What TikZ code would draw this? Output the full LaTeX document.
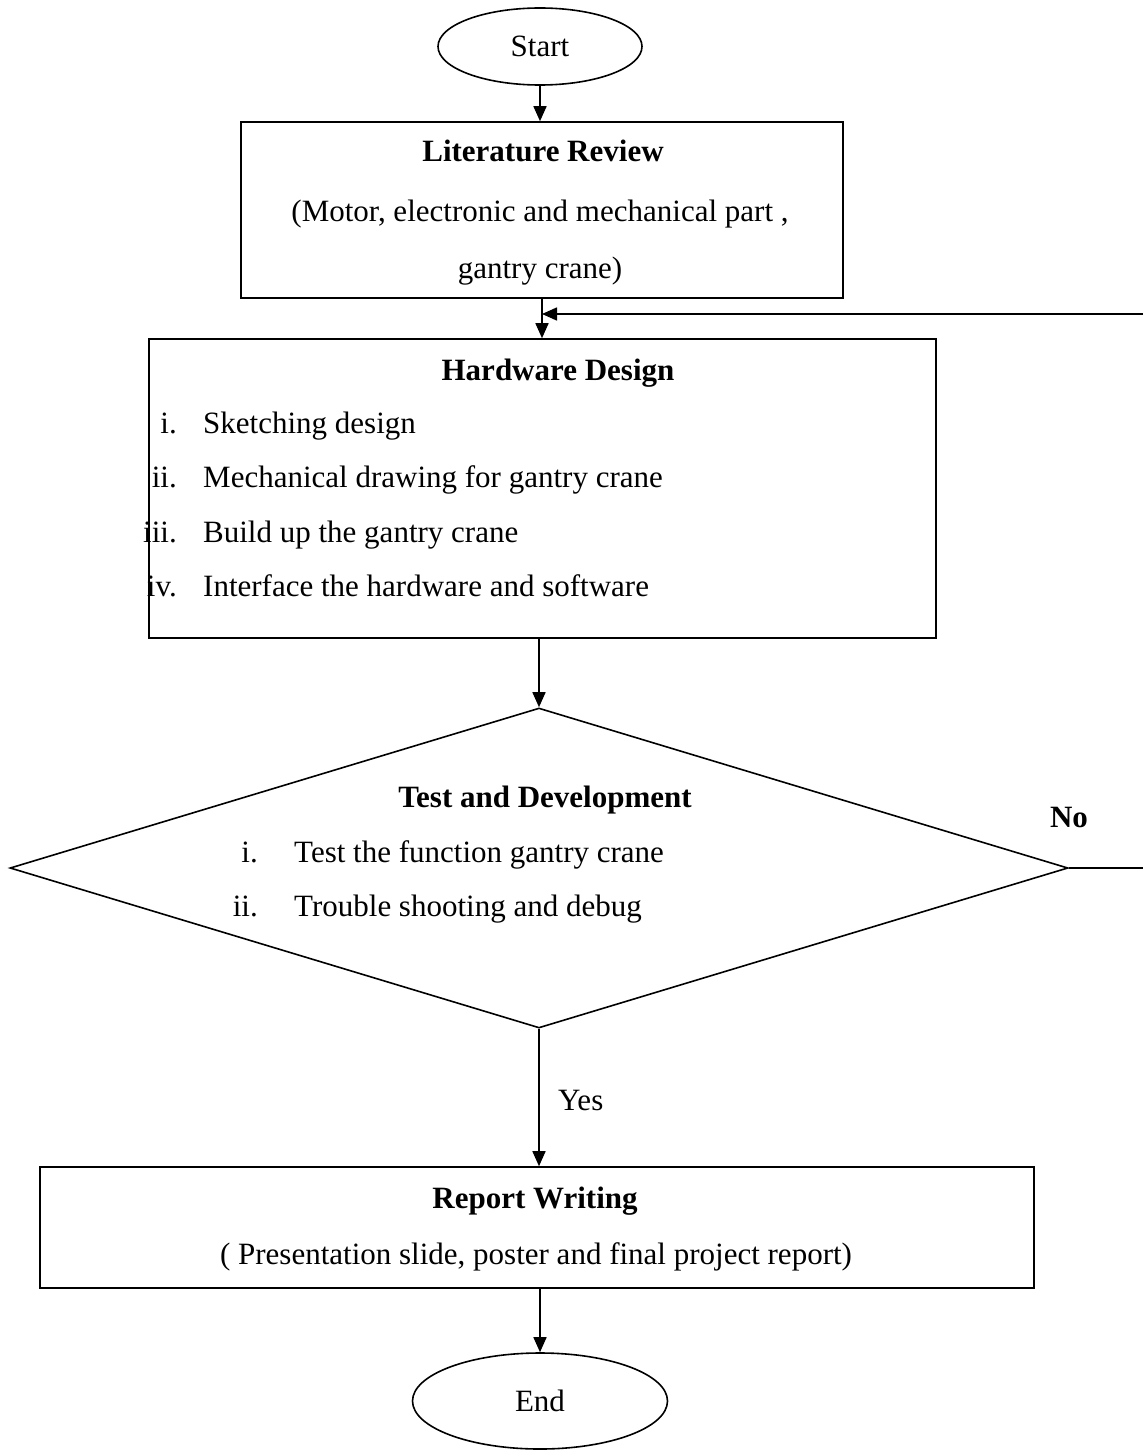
\documentclass[tikz,border=0pt]{standalone}
\usepackage{fontspec}
\setmainfont{Liberation Serif}
\usetikzlibrary{arrows.meta,shapes.geometric,calc}
\tikzset{
  line/.style={line width=1.6pt, draw=black},
  arr/.style={line, -{Triangle[length=15pt,width=13pt]}},
  boxshape/.style={line, rectangle, inner sep=0pt},
  term/.style={line, ellipse, inner sep=0pt},
  dshape/.style={line, diamond, inner sep=0pt},
  txt/.style={inner sep=0pt, font=\fontsize{31}{37}\selectfont},
  btxt/.style={inner sep=0pt, font=\fontsize{31}{37}\selectfont\bfseries},
  lbl/.style={txt, anchor=base east},
  itm/.style={txt, anchor=base west},
}
\begin{document}
\begin{tikzpicture}[x=1pt,y=-1pt]
\useasboundingbox (0,0) rectangle (1143,1450);
% shapes
\node[term, minimum width=204pt, minimum height=77pt] (start) at (540,46.5) {};
\node[txt] at (start.center) {Start};
\node[boxshape, minimum width=602pt, minimum height=176pt] (lit) at (542,210) {};
\node[boxshape, minimum width=787pt, minimum height=299pt] (hw) at (542.5,488.5) {};
\node[dshape, minimum width=1058pt, minimum height=320pt] (dia) at (539,868) {};
\node[boxshape, minimum width=994pt, minimum height=121pt] (rep) at (537,1227.5) {};
\node[term, minimum width=255pt, minimum height=96pt] (end) at (540,1401) {};
\node[txt] at (end.center) {End};
% texts
\node[btxt, anchor=base] (litT) at (543,162) {Literature Review};
\node[txt, anchor=base] (litA) at (540,222) {(Motor, electronic and mechanical part ,};
\node[txt, anchor=base] (litB) at (540,278) {gantry crane)};
\node[btxt, anchor=base] (hwT) at (558,380) {Hardware Design};
\node[lbl] (h1l) at (177,433) {i.};
\node[itm] (h1) at (203,433) {Sketching design};
\node[lbl] (h2l) at (177,487) {ii.};
\node[itm] (h2) at (203,487) {Mechanical drawing for gantry crane};
\node[lbl] (h3l) at (177,542) {iii.};
\node[itm] (h3) at (203,542) {Build up the gantry crane};
\node[lbl] (h4l) at (177,596) {iv.};
\node[itm] (h4) at (203,596) {Interface the hardware and software};
\node[btxt, anchor=base] (dT) at (545,807) {Test and Development};
\node[lbl] (d1l) at (258,862) {i.};
\node[itm] (d1) at (294,862) {Test the function gantry crane};
\node[lbl] (d2l) at (258,916) {ii.};
\node[itm] (d2) at (294,916) {Trouble shooting and debug};
\node[btxt, anchor=base] (no) at (1069,827) {No};
\node[txt, anchor=base west] (yes) at (558,1110) {Yes};
\node[btxt, anchor=base] (repT) at (535,1208) {Report Writing};
\node[txt, anchor=base] (repA) at (536,1264) {( Presentation slide, poster and final project report)};
% connectors
\coordinate (fbR) at (1143,314);
\coordinate (noR) at (1143,868);
\draw[arr] (start.south) -- (start.south |- lit.north);
\draw[arr] (lit.south) -- (lit.south |- hw.north);
\draw[arr] (fbR) -- (lit.south |- fbR);
\draw[arr] (dia.north |- hw.south) -- (dia.north);
\draw[line] (dia.east) -- (noR);
\draw[arr] (dia.south) -- (dia.south |- rep.north);
\draw[arr] (end.north |- rep.south) -- (end.north);
\end{tikzpicture}
\end{document}
